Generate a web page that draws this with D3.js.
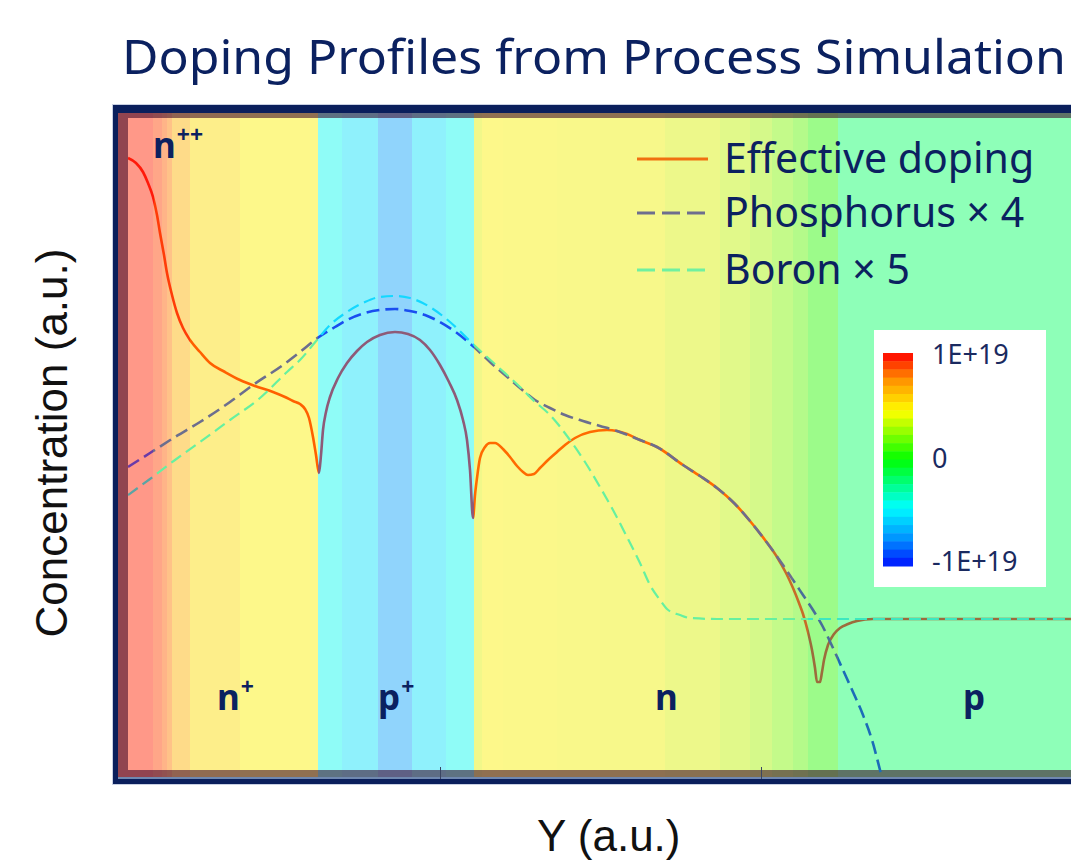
<!DOCTYPE html>
<html>
<head>
<meta charset="utf-8">
<script src="https://cdn.jsdelivr.net/npm/d3@7"></script>
<style>
	body { margin: 0; background: #fff; }
	text { font-family: "Noto Sans", sans-serif; }
</style>
</head>
<body>
<div id="chart"></div>
<script>

// depth axis in a.u. (0..963), concentration in a.u. (0..652)
var effX = [9, 17, 24, 29, 34, 38, 41, 45, 48, 53, 58, 64, 71, 81, 91, 106, 121, 136, 154, 166, 174, 181, 186, 190, 194, 197, 200, 202, 204, 207, 211, 219, 228, 238, 248, 261, 276, 289, 301, 311, 321, 330, 338, 344, 348, 351, 354, 356, 358, 361, 366, 371, 376, 384, 391, 398, 404, 409, 415, 421, 429, 438, 446, 456, 471, 488, 498, 508, 521, 538, 564, 581, 598, 616, 631, 646, 658, 667, 674, 680, 684, 689, 693, 696, 698, 701, 703, 705, 709, 715, 721, 729, 738, 754, 781, 952]
var effY = [612, 607, 598, 587, 573, 555, 537, 515, 497, 475, 457, 442, 430, 418, 407, 398, 390, 384, 378, 373, 369, 366, 361, 352, 333, 315, 297, 315, 340, 358, 373, 392, 407, 419, 428, 435, 438, 436, 430, 420, 405, 388, 370, 350, 330, 300, 252, 275, 292, 312, 323, 327, 327, 321, 313, 304, 298, 295, 296, 302, 310, 318, 325, 332, 338, 340, 339, 336, 330, 323, 305, 294, 282, 266, 249, 230, 213, 197, 182, 167, 156, 138, 120, 102, 88, 88, 98, 110, 125, 136, 142, 146, 149, 151, 151, 151]

var phosX = [9, 31, 56, 81, 111, 134, 164, 181, 200, 216, 228, 246, 261, 276, 291, 306, 321, 338, 355, 371, 386, 401, 416, 431, 446, 464, 481, 498, 521, 538, 564, 581, 598, 616, 631, 646, 664, 676, 684, 694, 704, 714, 724, 734, 744, 753, 761, 766]
var phosY = [303, 317, 333, 348, 368, 385, 405, 418, 433, 443, 450, 457, 460, 461, 459, 455, 448, 437, 423, 408, 395, 382, 370, 362, 355, 349, 344, 339, 330, 323, 305, 294, 282, 266, 249, 230, 205, 187, 175, 160, 143, 122, 100, 78, 55, 30, 0, -20]

var boronX = [9, 31, 56, 81, 111, 141, 168, 181, 198, 211, 228, 246, 261, 276, 291, 311, 331, 355, 378, 401, 414, 431, 451, 466, 481, 494, 508, 521, 531, 541, 548, 561, 571, 598, 952]
var boronY = [275, 291, 310, 328, 350, 372, 398, 410, 430, 445, 458, 468, 473, 474, 472, 463, 448, 425, 404, 383, 370, 355, 330, 308, 283, 260, 233, 207, 185, 170, 161, 155, 152, 151, 151]

// background bands: net doping level, -1 (p) .. +1 (n)
var bandEdges = [-1, 34, 43, 48, 53, 71, 121, 199, 223, 259, 293, 327, 355, 363, 384, 438, 481, 546, 601, 631, 653, 674, 689, 719, 990]
var bandLevels = [1.0, 0.92, 0.84, 0.76, 0.64, 0.55, 0.5, -0.48, -0.56, -0.72, -0.56, -0.48, 0.44, 0.5, 0.49, 0.48, 0.47, 0.42, 0.36, 0.3, 0.22, 0.14, 0.02, -0.2]

var regionNames = ["n", "n", "p", "n", "p"]
var regionSups = ["++", "+", "+", "", ""]
var seriesNames = ["Effective doping", "Phosphorus \u00d7 4", "Boron \u00d7 5"]
var colorbarLabels = ["1E+19", "0", "-1E+19"]
var xTicks = [321, 642]

var navy = "#0b2160"

var svg = d3.select("#chart").append("svg")
	.attr("width", 1071)
	.attr("height", 860)

var x = d3.scaleLinear().domain([0, 963]).range([119, 1082])
var y = d3.scaleLinear().domain([0, 652]).range([770, 118])

var pastel = d3.scaleLinear()
	.domain([-1, -0.72, -0.5, -0.2, 0, 0.5, 0.75, 1])
	.range(["#8fa0ff", "#90d4fc", "#8ffcfc", "#8effb8", "#98fb8a", "#fdf88a", "#ffc488", "#ff9888"])

var jet = d3.scaleLinear()
	.domain([-1, -0.75, -0.45, 0, 0.45, 0.75, 1])
	.range(["#0010ff", "#0090ff", "#00ffff", "#00ff00", "#ffff00", "#ff9000", "#ff0000"])

// title
svg.append("text")
	.attr("x", 122)
	.attr("y", 74)
	.attr("textLength", 944)
	.attr("lengthAdjust", "spacingAndGlyphs")
	.style("font-size", "47px")
	.style("fill", navy)
	.text("Doping Profiles from Process Simulation")

// frame
svg.append("rect")
	.attr("x", 112.5).attr("y", 104.5)
	.attr("width", 1000).attr("height", 680)
	.style("fill", "#0a1f5c")
	.style("stroke", "#c8d0e2")

svg.append("g").selectAll("rect")
	.data(bandLevels)
	.enter().append("rect")
		.attr("x", function (d, i) { return Math.max(118, x(bandEdges[i])) })
		.attr("y", 113)
		.attr("width", function (d, i) { return x(bandEdges[i + 1]) - Math.max(118, x(bandEdges[i])) })
		.attr("height", 664)
		.style("fill", function (d) { return pastel(d) })

// darker inner rim
svg.append("path")
	.attr("d", "M118,113H1100V777H118Z M128,118V770H1100V118Z")
	.style("fill-rule", "evenodd")
	.style("fill", "rgba(55,0,35,0.55)")

svg.append("rect")
	.attr("x", 118).attr("y", 777)
	.attr("width", 1000).attr("height", 2)
	.style("fill", "#7088b0")

var axis = svg.append("g")
	.attr("transform", "translate(0,779)")
	.call(d3.axisTop(x).tickValues(xTicks).tickSize(12).tickFormat(""))
axis.select(".domain").remove()
axis.selectAll("line").style("stroke", "#3a4462")

// curves, coloured piecewise by the band they cross
var line = d3.line()
	.x(function (d) { return x(d[0]) })
	.y(function (d) { return y(d[1]) })
	.curve(d3.curveMonotoneX)

var series = [
	{ xs: effX, ys: effY, width: 2.6, dash: null,
	  edges: [-20, 35, 71, 199, 355, 653, 689, 1000],
	  colors: ["#ff1a0a", "#ff3c08", "#ff6000", "#8e5a78", "#ff6a00", "#c86c28", "#9c6c3c"] },
	{ xs: phosX, ys: phosY, width: 2.6, dash: "13,6",
	  edges: [-20, 34, 199, 355, 674, 719, 1000],
	  colors: ["#6a3aa8", "#6c6e8e", "#1a4ef0", "#6c6e8e", "#4a6e9a", "#1c6cb8"] },
	{ xs: boronX, ys: boronY, width: 2.2, dash: "12,6",
	  edges: [-20, 34, 199, 355, 689, 1000],
	  colors: ["#5aa4a4", "#66f0a0", "#14d8ff", "#66f0a0", "#3ce8c0"] }
]

var defs = svg.append("defs")
var clipId = 0
series.forEach(function (s) {
	var pts = s.xs.map(function (v, i) { return [v, s.ys[i]] })
	s.colors.forEach(function (c, k) {
		var x0 = Math.max(128, x(s.edges[k]))
		var x1 = x(s.edges[k + 1])
		var id = "seg" + (clipId++)
		defs.append("clipPath").attr("id", id)
			.append("rect")
			.attr("x", x0).attr("y", 118)
			.attr("width", Math.max(0, x1 - x0)).attr("height", 655)
		svg.append("path")
			.datum(pts)
			.attr("d", line)
			.attr("clip-path", "url(#" + id + ")")
			.style("fill", "none")
			.style("stroke", c)
			.style("stroke-width", s.width)
			.style("stroke-dasharray", s.dash)
	})
})

// region labels
var labelPos = [[153, 158], [217, 710], [378, 710], [655, 710], [963, 710]]
var labels = svg.append("g")
	.style("font-weight", "bold")
	.style("fill", navy)
regionNames.forEach(function (n, i) {
	var t = labels.append("text")
		.attr("x", labelPos[i][0])
		.attr("y", labelPos[i][1])
		.style("font-size", "35px")
	t.append("tspan").text(n)
	if (regionSups[i]) {
		t.append("tspan")
			.attr("dy", -15)
			.attr("dx", 1)
			.style("font-size", "23px")
			.text(regionSups[i])
	}
})

// legend
var legendY = [159, 213, 270]
var legendStyle = [
	{ color: "#f07010", dash: null },
	{ color: "#6e6e8e", dash: "18,7" },
	{ color: "#70f0a0", dash: "18,7" }
]
var legend = svg.append("g")
seriesNames.forEach(function (name, i) {
	legend.append("line")
		.attr("x1", 637).attr("x2", 708)
		.attr("y1", legendY[i]).attr("y2", legendY[i])
		.style("stroke", legendStyle[i].color)
		.style("stroke-width", 3)
		.style("stroke-dasharray", legendStyle[i].dash)
	legend.append("text")
		.attr("x", 724)
		.attr("y", legendY[i] + 14)
		.style("font-size", "41px")
		.style("fill", navy)
		.text(name)
})

// colour bar
var cb = svg.append("g")
cb.append("rect")
	.attr("x", 874).attr("y", 330)
	.attr("width", 172).attr("height", 257)
	.style("fill", "#fff")

var cbScale = d3.scaleLinear().domain([1, -1]).range([353, 566])
var steps = d3.range(26).map(function (i) { return 1 - 2 * i / 26 })
cb.selectAll(".step")
	.data(steps)
	.enter().append("rect")
		.attr("class", "step")
		.attr("x", 883)
		.attr("y", function (d) { return cbScale(d) })
		.attr("width", 30)
		.attr("height", cbScale(0) - cbScale(2 / 26) + 0.5)
		.style("fill", function (d) { return jet(d - 1 / 26) })

var cbLabelY = [364, 468, 571]
colorbarLabels.forEach(function (l, i) {
	cb.append("text")
		.attr("x", 932)
		.attr("y", cbLabelY[i])
		.style("font-size", "27px")
		.style("fill", "#1a2a60")
		.text(l)
})

// axis titles
svg.append("text")
	.attr("x", 537)
	.attr("y", 851)
	.style("font-family", "'Liberation Sans', Arial, sans-serif")
	.style("font-size", "44px")
	.style("fill", "#111")
	.text("Y (a.u.)")

svg.append("text")
	.attr("transform", "translate(67,443) rotate(-90)")
	.attr("text-anchor", "middle")
	.style("font-family", "'Liberation Sans', Arial, sans-serif")
	.style("font-size", "44px")
	.style("fill", "#111")
	.text("Concentration (a.u.)")

</script>
</body>
</html>
